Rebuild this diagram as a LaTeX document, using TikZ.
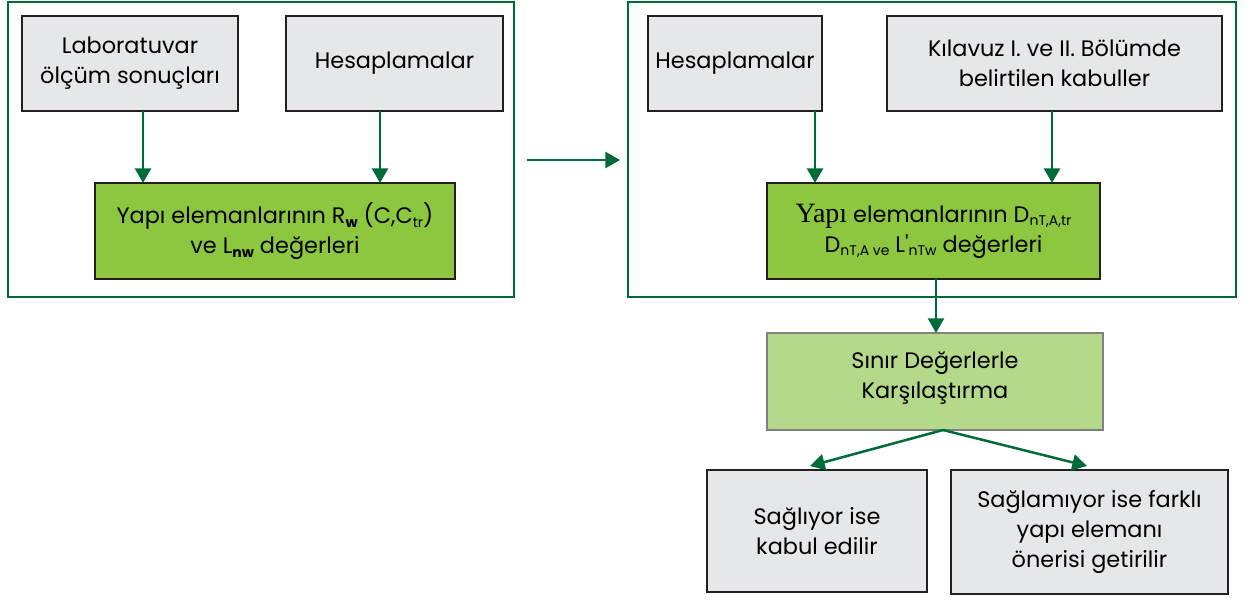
\documentclass[tikz,border=0pt]{standalone}
\usepackage{fontspec}
\setmainfont{Poppins}
\newfontfamily\serifface{Liberation Serif}
\usetikzlibrary{arrows.meta,calc}
\definecolor{framegreen}{HTML}{006B3A}
\definecolor{boxgrey}{HTML}{E6E7E8}
\definecolor{leafgreen}{HTML}{8DC63F}
\definecolor{palegreen}{HTML}{B5D98A}
\definecolor{edgegrey}{HTML}{231F20}
\newcommand{\subtx}[1]{\raisebox{-0.3ex}{\fontsize{10.5}{10.5}\selectfont #1}}
\begin{document}
\begin{tikzpicture}[x=0.75pt,y=-0.75pt,
  every node/.style={inner sep=0pt,outer sep=0pt,align=center,
    font=\fontsize{16.8}{22.5}\selectfont},
  frame/.style={draw=framegreen,line width=1.6pt,fill=white},
  greybox/.style={draw=edgegrey,line width=1.3pt,fill=boxgrey},
  greenbox/.style={draw=edgegrey,line width=1.3pt,fill=leafgreen},
  palebox/.style={draw=gray,line width=1.3pt,fill=palegreen},
  arr/.style={draw=framegreen,line width=1.9pt,
    -{Triangle[length=11pt,width=12pt]}}]
\useasboundingbox (0,0) rectangle (1247,600);
% left panel
\node[frame,minimum width=379.5pt,minimum height=221.25pt] (f1) at (261,149.5) {};
\node[greybox,minimum width=162pt,minimum height=71.25pt] (lab) at (130,63.5)
  {Laboratuvar\\ölçüm sonuçları};
\node[greybox,minimum width=162.75pt,minimum height=71.25pt] (hes1) at (394.5,63.5)
  {Hesaplamalar};
\node[greenbox,minimum width=270pt,minimum height=72pt] (g1) at (275,231)
  {Yapı elemanlarının R\subtx{\textbf{w}} (C,C\subtx{tr})\\ve L\subtx{\textbf{nw}} değerleri};
\draw[arr] ($(lab.south)+(13,0)$) -- ($(lab.south |- g1.north)+(13,0)$);
\draw[arr] ($(hes1.south)+(-14.5,0)$) -- ($(hes1.south |- g1.north)+(-14.5,0)$);
% right panel
\node[frame,minimum width=456pt,minimum height=221.25pt] (f2) at (932,149.5) {};
\node[greybox,minimum width=130.5pt,minimum height=71.25pt] (hes2) at (735,63.5)
  {Hesaplamalar};
\node[greybox,minimum width=251.25pt,minimum height=71.25pt] (kil) at (1054.5,63.5)
  {Kılavuz I. ve II. Bölümde\\belirtilen kabuller};
\node[greenbox,minimum width=249.75pt,minimum height=72pt] (g2) at (933.5,231)
  {{\serifface\fontsize{21}{22.5}\selectfont Yapı} elemanlarının D\subtx{nT,A,tr}\\
   D\subtx{nT,A ve} L\textquotesingle\subtx{nTw} değerleri};
\draw[arr] ($(hes2.south)+(80,0)$) -- ($(hes2.south |- g2.north)+(80,0)$);
\draw[arr] ($(kil.south)+(-2.5,0)$) -- ($(kil.south |- g2.north)+(-2.5,0)$);
% link between panels
\draw[arr] ($(f1.east)+(13,10.5)$) -- ($(f2.west)+(-8,10.5)$);
% evaluation
\node[palebox,minimum width=252pt,minimum height=72.75pt,text depth=10pt] (lg) at (935,381.5)
  {Sınır Değerlerle\\Karşılaştırma};
\draw[arr] ($(g2.south)+(2.5,0)$) -- ($(g2.south |- lg.north)+(2.5,0)$);
\node[greybox,minimum width=165pt,minimum height=91.5pt] (s1) at (817,531)
  {Sağlıyor ise\\kabul edilir};
\node[greybox,minimum width=207.75pt,minimum height=93pt] (s2) at (1089.5,532)
  {Sağlamıyor ise farklı\\yapı elemanı\\önerisi getirilir};
\coordinate (split) at ($(lg.south)+(8,0)$);
\draw[arr] (split) -- ($(s1.north)+(-7,-4)$);
\draw[arr] (split) -- ($(s2.north)+(-2.5,-4)$);
\end{tikzpicture}
\end{document}
